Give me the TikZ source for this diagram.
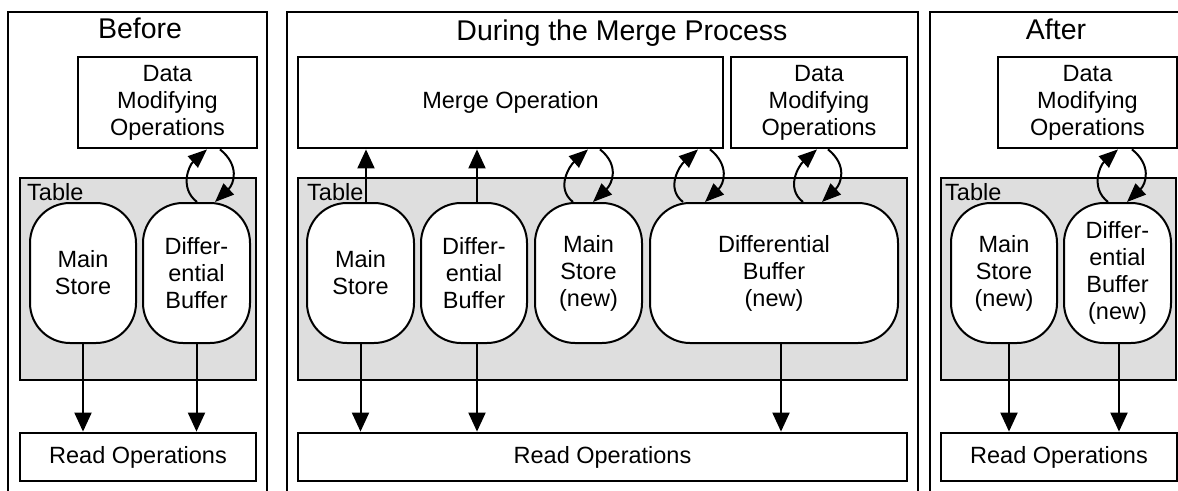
\documentclass[tikz,border=0pt]{standalone}
\usepackage{fontspec}
\setmainfont{Liberation Sans}
\usetikzlibrary{arrows.meta,calc}
\definecolor{tablegray}{RGB}{222,222,222}
\newcommand\mybody{\fontsize{23.5}{27}\selectfont}
\newcommand\mytitle{\fontsize{28.5}{33}\selectfont}
\tikzset{
  frame/.style={line width=2.4pt},
  opbox/.style={draw, line width=2.8pt, fill=white, inner sep=0pt, align=center, font=\mybody},
  tablebox/.style={draw, line width=2.8pt, fill=tablegray, inner sep=0pt},
  store/.style={draw, line width=2pt, fill=white, rounded corners=40pt, inner sep=0pt, align=center, font=\mybody},
  ttl/.style={anchor=base, inner sep=0pt, font=\mytitle},
  tlabel/.style={anchor=base west, inner sep=0pt, font=\mybody},
  arr/.style={line width=2pt, -{Triangle[length=19pt,width=17pt]}},
  carr/.style={line width=2pt, -{Triangle[length=19pt,width=15pt]}}
}
\begin{document}
\begin{tikzpicture}[x=1pt,y=-1pt]
\useasboundingbox (0,0) rectangle (1178,490);
\clip (0,0) rectangle (1178,490);
\fill[white] (0,0) rectangle (1178,490);
% panel frames
\draw[frame] (8,500) -- (8,12) -- (267,12) -- (267,500);
\draw[frame] (287,500) -- (287,12) -- (918,12) -- (918,500);
\draw[frame] (930,500) -- (930,12) -- (1192,12) -- (1192,500);
% titles
\node[ttl] (t1) at (140,38) {Before};
\node[ttl] (t2) at (622,40) {During the Merge Process};
\node[ttl] (t3) at (1056,39) {After};

% ---------------- Panel 1
\node[opbox, minimum width=179pt, minimum height=91pt] (dmo1) at (167.5,102.5) {Data\\Modifying\\Operations};
\node[tablebox, minimum width=236pt, minimum height=202pt] (tab1) at (138,279) {};
\node[tlabel] (tl1) at (27,200) {Table};
\node[store, minimum width=106pt, minimum height=140pt] (ms1) at (83,273) {Main\\Store};
\node[store, minimum width=107pt, minimum height=140pt] (db1) at (196.5,273) {Differ-\\ential\\Buffer};
\node[opbox, minimum width=236pt, minimum height=48pt] (rd1) at (138,457) {Read Operations};
\draw[arr] (ms1.south) -- (ms1.south |- rd1.north);
\draw[arr] (db1.south) -- (db1.south |- rd1.north);
\draw[carr] ([xshift=0.5pt]db1.north) .. controls +(-18,-14) and +(-18,16) .. ([xshift=39.5pt]dmo1.south);
\draw[carr] ([xshift=52.5pt]dmo1.south) .. controls +(20,16) and +(19,-18) .. ([xshift=18.5pt]db1.north);

% ---------------- Panel 2
\node[opbox, minimum width=425pt, minimum height=91pt] (mrg) at (510.5,102.5) {Merge Operation};
\node[opbox, minimum width=176pt, minimum height=91pt] (dmo2) at (819,102.5) {Data\\Modifying\\Operations};
\node[tablebox, minimum width=609pt, minimum height=202pt] (tab2) at (602.5,279) {};
\node[tlabel] (tl2) at (307,200) {Table};
\node[store, minimum width=107pt, minimum height=140pt] (ms2) at (360.5,273) {Main\\Store};
\node[store, minimum width=106pt, minimum height=140pt] (db2) at (474,273) {Differ-\\ential\\Buffer};
\node[store, minimum width=107pt, minimum height=140pt] (msn2) at (588.5,273) {Main\\Store\\(new)};
\node[store, minimum width=248pt, minimum height=140pt] (dbn2) at (774,273) {Differential\\Buffer\\(new)};
\node[opbox, minimum width=609pt, minimum height=48pt] (rd2) at (602.5,457) {Read Operations};
\draw[arr] ([xshift=5.5pt]ms2.north) -- ([xshift=5.5pt]ms2.north |- mrg.south);
\draw[arr] ([xshift=3pt]db2.north) -- ([xshift=3pt]db2.north |- mrg.south);
\draw[arr] (ms2.south) -- (ms2.south |- rd2.north);
\draw[arr] ([xshift=3pt]db2.south) -- ([xshift=3pt]db2.south |- rd2.north);
\draw[arr] ([xshift=7pt]dbn2.south) -- ([xshift=7pt]dbn2.south |- rd2.north);
% msn2 <-> merge
\draw[carr] ([xshift=-15.5pt]msn2.north) .. controls +(-18,-14) and +(-18,16) .. ([xshift=77.5pt]mrg.south);
\draw[carr] ([xshift=89.5pt]mrg.south) .. controls +(20,16) and +(19,-18) .. ([xshift=4.5pt]msn2.north);
% dbn2 <-> merge
\draw[carr] ([xshift=-91pt]dbn2.north) .. controls +(-18,-14) and +(-18,16) .. ([xshift=187.5pt]mrg.south);
\draw[carr] ([xshift=199.5pt]mrg.south) .. controls +(20,16) and +(19,-18) .. ([xshift=-69pt]dbn2.north);
% dbn2 <-> dmo2
\draw[carr] ([xshift=29pt]dbn2.north) .. controls +(-18,-14) and +(-18,16) .. ([xshift=-2pt]dmo2.south);
\draw[carr] ([xshift=9pt]dmo2.south) .. controls +(20,16) and +(19,-18) .. ([xshift=48pt]dbn2.north);

% ---------------- Panel 3
\node[opbox, minimum width=179pt, minimum height=91pt] (dmo3) at (1087.5,102.5) {Data\\Modifying\\Operations};
\node[tablebox, minimum width=235pt, minimum height=202pt] (tab3) at (1058.5,279) {};
\node[tlabel] (tl3) at (945,200) {Table};
\node[store, minimum width=106pt, minimum height=140pt] (ms3) at (1004,273) {Main\\Store\\(new)};
\node[store, minimum width=107pt, minimum height=140pt] (db3) at (1117.5,273) {Differ-\\ential\\Buffer\\(new)};
\node[opbox, minimum width=236pt, minimum height=48pt] (rd3) at (1059,457) {Read Operations};
\draw[arr] ([xshift=5pt]ms3.south) -- ([xshift=5pt]ms3.south |- rd3.north);
\draw[arr] ([xshift=1.5pt]db3.south) -- ([xshift=1.5pt]db3.south |- rd3.north);
\draw[carr] ([xshift=-9.5pt]db3.north) .. controls +(-18,-14) and +(-18,16) .. ([xshift=30.5pt]dmo3.south);
\draw[carr] ([xshift=44.5pt]dmo3.south) .. controls +(20,16) and +(19,-18) .. ([xshift=9.5pt]db3.north);
\end{tikzpicture}
\end{document}
